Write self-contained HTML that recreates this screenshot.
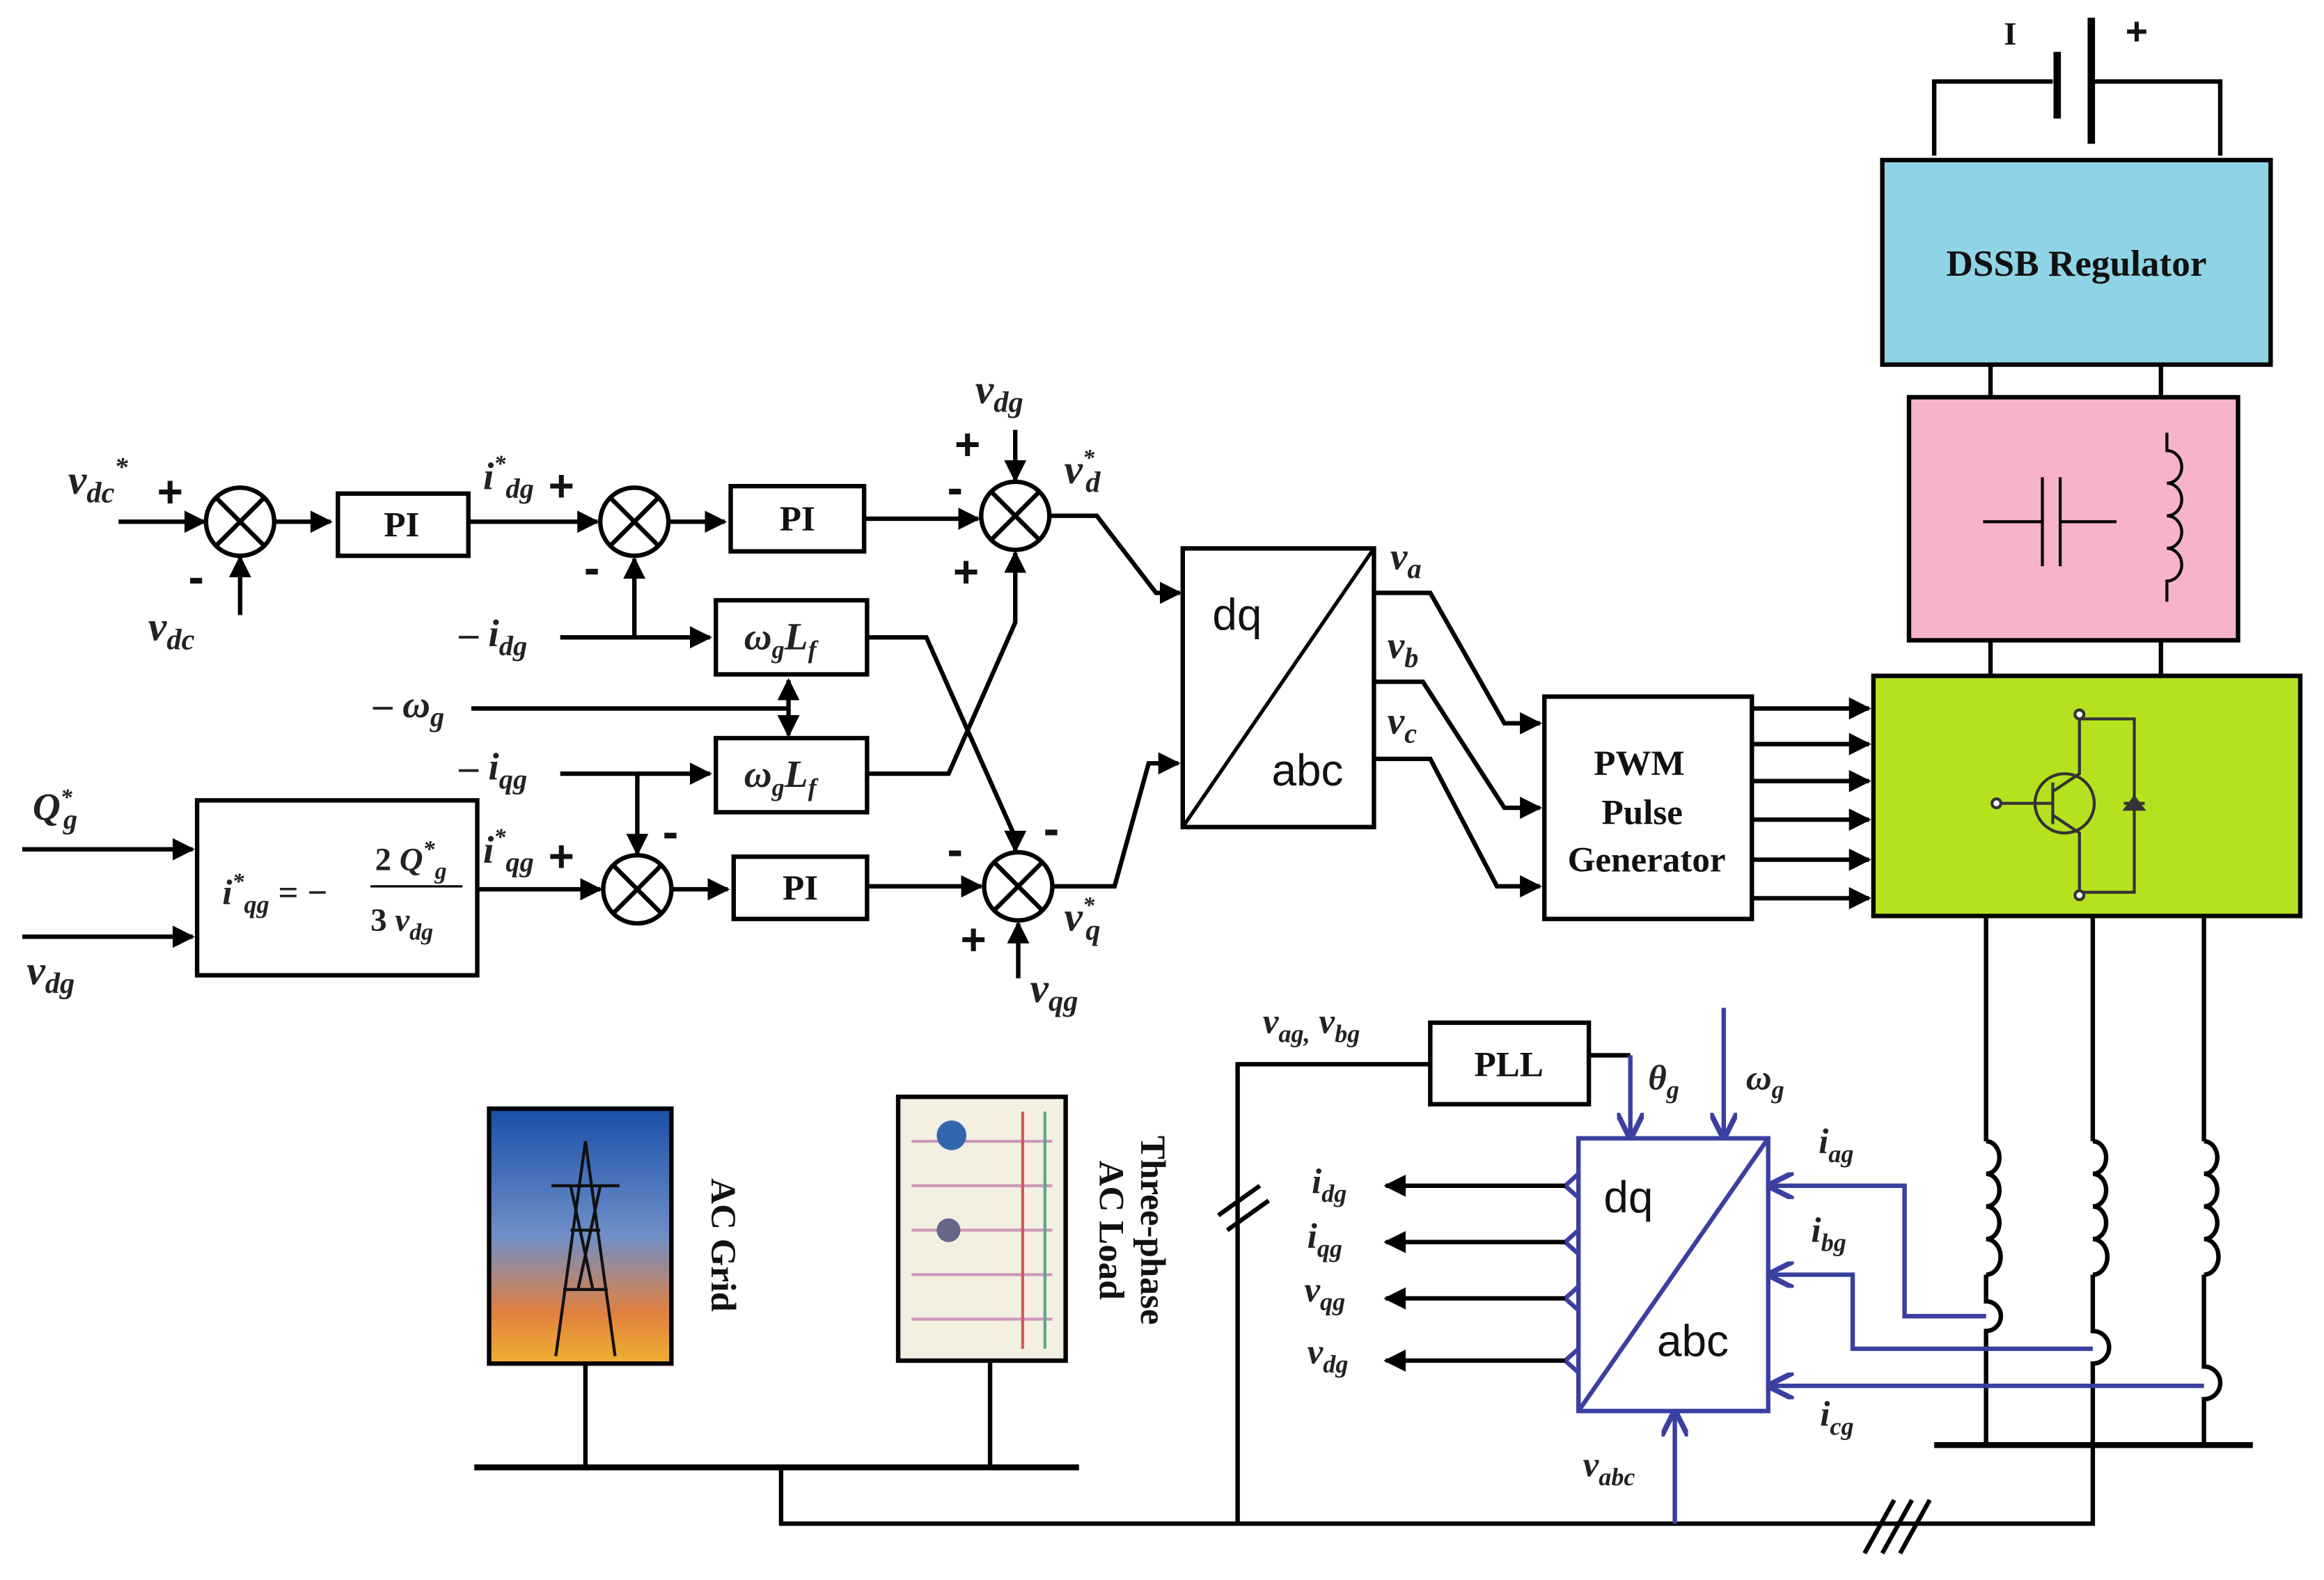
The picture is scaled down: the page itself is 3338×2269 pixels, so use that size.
<!DOCTYPE html>
<html><head><meta charset="utf-8"><style>
html,body{margin:0;padding:0;background:#fff}
svg{display:block}
.m{font-family:"Liberation Serif",serif;font-style:italic;font-weight:bold;fill:#222}
.b{font-family:"Liberation Serif",serif;font-weight:bold;fill:#111}
.p{font-family:"Liberation Sans",sans-serif;font-weight:bold;fill:#111}
.s{font-family:"Liberation Sans",sans-serif;fill:#111}
</style></head><body>
<svg width="3338" height="2269" viewBox="0 0 1568 1066" preserveAspectRatio="none" xmlns="http://www.w3.org/2000/svg">
<defs>
<marker id="a" viewBox="0 0 10 10" refX="9" refY="5" markerWidth="5" markerHeight="5" orient="auto"><path d="M0,0L10,5L0,10z" fill="#000"/></marker>
<marker id="ab" viewBox="0 0 10 10" refX="9" refY="5" markerWidth="6" markerHeight="6" orient="auto"><path d="M0,0L10,5L0,10" fill="none" stroke="#3a3fa0" stroke-width="2"/></marker>
<linearGradient id="sky" x1="0" y1="0" x2="0" y2="1"><stop offset="0" stop-color="#1a4fa8"/><stop offset="0.5" stop-color="#6f8fc8"/><stop offset="0.8" stop-color="#e08040"/><stop offset="1" stop-color="#f0b030"/></linearGradient>
</defs>
<g stroke="#000" stroke-width="3" fill="none">
<path d="M1305,105V55H1385M1412,55H1498V105"/>
<line x1="1388" y1="35" x2="1388" y2="80" stroke-width="5"/>
<line x1="1411" y1="12" x2="1411" y2="97" stroke-width="5"/>
<line x1="1343" y1="246" x2="1343" y2="268"/><line x1="1458" y1="246" x2="1458" y2="268"/>
<line x1="1343" y1="432" x2="1343" y2="456"/><line x1="1458" y1="432" x2="1458" y2="456"/>
</g>
<text class="b" x="1352" y="30" font-size="22">I</text><text class="p" x="1434" y="30" font-size="26">+</text>
<rect x="1270" y="108" width="262" height="138" fill="#8fd4e6" stroke="#000" stroke-width="3"/>
<text class="b" x="1401" y="186" font-size="25" text-anchor="middle">DSSB Regulator</text>
<rect x="1288" y="268" width="222" height="164" fill="#f7b3cc" stroke="#000" stroke-width="3"/>
<g stroke="#000" stroke-width="2" fill="none">
<path d="M1338,352H1378M1378,322V382M1390,322V382M1390,352H1428"/>
<path d="M1462,292v12a10,11 0 0 1 0,22a10,11 0 0 1 0,22a10,11 0 0 1 0,22a10,11 0 0 1 0,22v14"/>
</g>
<rect x="1264" y="456" width="288" height="162" fill="#b5e21f" stroke="#000" stroke-width="3"/>
<g stroke="#333" stroke-width="2" fill="none">
<circle cx="1393" cy="542" r="20"/><path d="M1350,542H1385M1385,528V556M1385,534L1403,522V485M1385,550L1403,562V602M1403,485H1440V602H1403M1433,542H1447"/>
<circle cx="1347" cy="542" r="3" fill="#fff"/><circle cx="1403" cy="482" r="3" fill="#fff"/><circle cx="1403" cy="604" r="3" fill="#fff"/>
<path d="M1434,546L1440,538L1446,546z" fill="#333"/>
</g>
<rect x="1042" y="470" width="140" height="150" fill="#fff" stroke="#000" stroke-width="3"/>
<text class="b" x="1106" y="523" font-size="24" text-anchor="middle">PWM</text>
<text class="b" x="1108" y="556" font-size="24" text-anchor="middle">Pulse</text>
<text class="b" x="1111" y="588" font-size="24" text-anchor="middle">Generator</text>
<g stroke="#000" stroke-width="3" fill="none" marker-end="url(#a)">
<line x1="1182" y1="478" x2="1261" y2="478"/><line x1="1182" y1="502" x2="1261" y2="502"/><line x1="1182" y1="527" x2="1261" y2="527"/><line x1="1182" y1="553" x2="1261" y2="553"/><line x1="1182" y1="580" x2="1261" y2="580"/><line x1="1182" y1="606" x2="1261" y2="606"/>
</g>
<g stroke="#000" stroke-width="3" fill="none">
<path d="M1340,618V770M1340,860V878a10,10 0 0 1 0,20V975"/>
<path d="M1412,618V770M1412,860V898a10,10 0 0 1 0,22V1028H527V990"/>
<path d="M1487,618V770M1487,860V922a10,10 0 0 1 0,22V975"/>
<path d="M1305,975H1520" stroke-width="4"/>
<path d="M320,990H728" stroke-width="4"/>
<path d="M395,920V990M668,918V990"/>
<path d="M835,1028V718H965M1072,712H1100"/>
<path d="M822,820L850,800M828,830L856,810"/>
<path d="M1258,1048L1278,1012M1270,1048L1290,1012M1282,1048L1302,1012"/>
<path d="M1340,770a9,11 0 0 1 0,22a9,11 0 0 1 0,22a9,11 0 0 1 0,22a9,11 0 0 1 0,24"/>
<path d="M1412,770a9,11 0 0 1 0,22a9,11 0 0 1 0,22a9,11 0 0 1 0,22a9,11 0 0 1 0,24"/>
<path d="M1487,770a9,11 0 0 1 0,22a9,11 0 0 1 0,22a9,11 0 0 1 0,22a9,11 0 0 1 0,24"/>
</g>
<rect x="965" y="690" width="107" height="55" fill="#fff" stroke="#000" stroke-width="3"/>
<text class="b" x="1018" y="726" font-size="24" text-anchor="middle">PLL</text>
<g stroke="#3a3fa0" stroke-width="3" fill="none">
<rect x="1065" y="768" width="128" height="184"/>
<line x1="1065" y1="952" x2="1193" y2="768"/>
<path d="M1100,712V767" marker-end="url(#ab)"/>
<path d="M1163,680V767" marker-end="url(#ab)"/>
<path d="M1130,1028V953" marker-end="url(#ab)"/>
<path d="M1340,888H1285V800H1194" marker-end="url(#ab)"/>
<path d="M1412,910H1250V860H1194" marker-end="url(#ab)"/>
<path d="M1487,935H1194" marker-end="url(#ab)"/>
<path d="M1065,792L1056,800L1065,808M1065,830L1056,838L1065,846M1065,868L1056,876L1065,884M1065,910L1056,918L1065,926"/>
</g>
<text class="s" x="1082" y="818" font-size="30">dq</text>
<text class="s" x="1118" y="915" font-size="30">abc</text>
<g stroke="#000" stroke-width="3" fill="none" marker-end="url(#a)">
<line x1="1056" y1="800" x2="935" y2="800"/><line x1="1056" y1="838" x2="935" y2="838"/><line x1="1056" y1="876" x2="935" y2="876"/><line x1="1056" y1="918" x2="935" y2="918"/>
</g>
<text class="m" x="885" y="805" font-size="24">i<tspan font-size="17" dy="6">dg</tspan></text>
<text class="m" x="882" y="842" font-size="24">i<tspan font-size="17" dy="6">qg</tspan></text>
<text class="m" x="880" y="878" font-size="24">v<tspan font-size="17" dy="6">qg</tspan></text>
<text class="m" x="882" y="920" font-size="24">v<tspan font-size="17" dy="6">dg</tspan></text>
<text class="m" x="852" y="697" font-size="24">v<tspan font-size="17" dy="6">ag,</tspan><tspan dy="-6"> v</tspan><tspan font-size="17" dy="6">bg</tspan></text>
<text class="m" x="1112" y="735" font-size="24">θ<tspan font-size="17" dy="6">g</tspan></text>
<text class="m" x="1178" y="735" font-size="24">ω<tspan font-size="17" dy="6">g</tspan></text>
<text class="m" x="1227" y="778" font-size="24">i<tspan font-size="17" dy="6">ag</tspan></text>
<text class="m" x="1222" y="838" font-size="24">i<tspan font-size="17" dy="6">bg</tspan></text>
<text class="m" x="1228" y="962" font-size="24">i<tspan font-size="17" dy="6">cg</tspan></text>
<text class="m" x="1068" y="996" font-size="24">v<tspan font-size="17" dy="6">abc</tspan></text>
<rect x="330" y="748" width="123" height="172" fill="url(#sky)" stroke="#000" stroke-width="3"/>
<g stroke="#111" stroke-width="2" fill="none"><path d="M375,915L395,770L415,915M380,870H410M385,830H405M372,800H418M385,800L400,870M405,800L390,870"/></g>
<rect x="606" y="740" width="113" height="178" fill="#f3f0e2" stroke="#000" stroke-width="3"/>
<g stroke-width="2" fill="none"><path d="M615,770H710M615,800H710M615,830H710M615,860H710M615,890H710" stroke="#c9b"/><path d="M705,750V910" stroke="#5a8"/><path d="M690,750V910" stroke="#d55"/></g>
<circle cx="642" cy="766" r="10" fill="#3466b0"/><circle cx="640" cy="830" r="8" fill="#668"/>
<text class="b" x="480" y="840" font-size="24" text-anchor="middle" transform="rotate(90 480 840)">AC Grid</text>
<text class="b" x="770" y="830" font-size="24" text-anchor="middle" transform="rotate(90 770 830)">Three-phase</text>
<text class="b" x="742" y="830" font-size="24" text-anchor="middle" transform="rotate(90 742 830)">AC Load</text>
<g stroke="#000" stroke-width="3" fill="#fff">
<circle cx="162" cy="352" r="23"/><circle cx="428" cy="352" r="23"/><circle cx="685" cy="348" r="23"/>
<circle cx="430" cy="600" r="23"/><circle cx="687" cy="598" r="23"/>
<rect x="228" y="333" width="88" height="42"/><rect x="493" y="328" width="90" height="44"/>
<rect x="483" y="405" width="102" height="50"/><rect x="483" y="498" width="102" height="50"/>
<rect x="495" y="578" width="90" height="42"/><rect x="133" y="540" width="189" height="118"/>
<rect x="798" y="370" width="129" height="188"/>
</g>
<g stroke="#000" stroke-width="3" fill="none">
<path d="M146,336L178,368M178,336L146,368M412,336L444,368M444,336L412,368M669,332L701,364M701,332L669,364M414,584L446,616M446,584L414,616M671,582L703,614M703,582L671,614"/>
<line x1="798" y1="558" x2="927" y2="370" stroke-width="2.5"/>
</g>
<g stroke="#000" stroke-width="3" fill="none" marker-end="url(#a)">
<path d="M80,352H138"/><path d="M162,415V376"/><path d="M186,352H223"/><path d="M316,352H403"/><path d="M452,352H489"/>
<path d="M583,350H660"/><path d="M685,290V324"/><path d="M709,348H740L780,400H796"/>
<path d="M378,430H479"/><path d="M428,430V377"/>
<path d="M318,478H532V459"/><path d="M532,478V496"/>
<path d="M378,522H479"/><path d="M430,522V576"/>
<path d="M585,430H625L685,565V574"/>
<path d="M585,522H640L685,420V373"/>
<path d="M15,573H130"/><path d="M15,632H130"/>
<path d="M322,600H405"/><path d="M454,600H491"/><path d="M585,598H662"/><path d="M687,660V623"/>
<path d="M711,598H752L775,515H795"/>
<path d="M927,400H965L1015,488H1039"/><path d="M927,460H960L1015,545H1039"/><path d="M927,512H965L1010,598H1039"/>
</g>
<text class="b" x="271" y="362" font-size="24" text-anchor="middle">PI</text>
<text class="b" x="538" y="358" font-size="24" text-anchor="middle">PI</text>
<text class="b" x="540" y="607" font-size="24" text-anchor="middle">PI</text>
<text class="m" x="502" y="438" font-size="26">ω<tspan font-size="17" dy="6">g</tspan><tspan dy="-6">L</tspan><tspan font-size="17" dy="6">f</tspan></text>
<text class="m" x="502" y="531" font-size="26">ω<tspan font-size="17" dy="6">g</tspan><tspan dy="-6">L</tspan><tspan font-size="17" dy="6">f</tspan></text>
<text class="s" x="818" y="425" font-size="30">dq</text>
<text class="s" x="858" y="530" font-size="30">abc</text>
<text class="m" x="150" y="610" font-size="24">i<tspan font-size="16" dy="-10">*</tspan><tspan font-size="17" dy="16">qg</tspan><tspan dy="-6" font-style="normal"> = − </tspan></text>
<text class="m" x="253" y="587" font-size="22"><tspan font-style="normal">2 </tspan>Q<tspan font-size="16" dy="-9">*</tspan><tspan font-size="16" dy="15">g</tspan></text>
<line x1="250" y1="598" x2="312" y2="598" stroke="#000" stroke-width="1.5"/>
<text class="m" x="250" y="628" font-size="22"><tspan font-style="normal">3 </tspan>v<tspan font-size="16" dy="6">dg</tspan></text>
<text class="m" x="46" y="333" font-size="28">v<tspan font-size="20" dy="6">dc</tspan><tspan font-size="18" dy="-18">*</tspan></text>
<text class="p" x="106" y="342" font-size="30">+</text>
<text class="p" x="127" y="400" font-size="32">-</text>
<text class="m" x="100" y="432" font-size="28">v<tspan font-size="20" dy="6">dc</tspan></text>
<text class="m" x="326" y="330" font-size="26">i<tspan font-size="16" dy="-12">*</tspan><tspan font-size="19" dy="18">dg</tspan></text>
<text class="p" x="370" y="338" font-size="30">+</text>
<text class="p" x="394" y="394" font-size="32">-</text>
<text class="m" x="310" y="436" font-size="26">– i<tspan font-size="19" dy="6">dg</tspan></text>
<text class="m" x="252" y="484" font-size="26">–  ω<tspan font-size="19" dy="6">g</tspan></text>
<text class="m" x="310" y="526" font-size="26">– i<tspan font-size="19" dy="6">qg</tspan></text>
<text class="m" x="658" y="272" font-size="28">v<tspan font-size="20" dy="6">dg</tspan></text>
<text class="p" x="644" y="310" font-size="30">+</text>
<text class="p" x="639" y="340" font-size="32">-</text>
<text class="p" x="643" y="396" font-size="30">+</text>
<text class="m" x="718" y="326" font-size="28">v<tspan font-size="16" dy="-12">*</tspan><tspan font-size="20" dy="18" dx="-6">d</tspan></text>
<text class="m" x="22" y="553" font-size="26">Q<tspan font-size="16" dy="-10">*</tspan><tspan font-size="19" dy="16" dx="-6">g</tspan></text>
<text class="m" x="18" y="664" font-size="28">v<tspan font-size="20" dy="6">dg</tspan></text>
<text class="m" x="326" y="582" font-size="26">i<tspan font-size="16" dy="-12">*</tspan><tspan font-size="19" dy="18">qg</tspan></text>
<text class="p" x="370" y="588" font-size="30">+</text>
<text class="p" x="447" y="572" font-size="32">-</text>
<text class="p" x="639" y="584" font-size="32">-</text>
<text class="p" x="704" y="570" font-size="32">-</text>
<text class="p" x="648" y="644" font-size="30">+</text>
<text class="m" x="718" y="628" font-size="28">v<tspan font-size="16" dy="-12">*</tspan><tspan font-size="20" dy="18" dx="-6">q</tspan></text>
<text class="m" x="695" y="676" font-size="28">v<tspan font-size="20" dy="6">qg</tspan></text>
<text class="m" x="938" y="384" font-size="26">v<tspan font-size="19" dy="6">a</tspan></text>
<text class="m" x="936" y="444" font-size="26">v<tspan font-size="19" dy="6">b</tspan></text>
<text class="m" x="936" y="495" font-size="26">v<tspan font-size="19" dy="6">c</tspan></text>
</svg>
</body></html>
